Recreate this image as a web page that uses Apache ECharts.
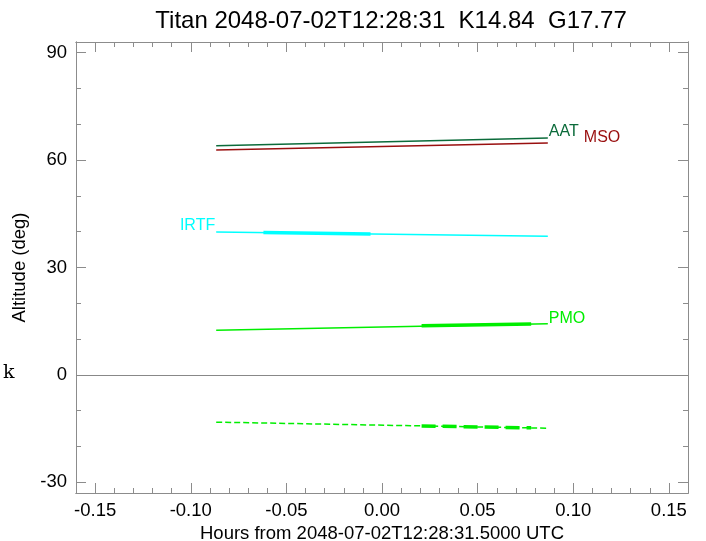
<!DOCTYPE html>
<html><head><meta charset="utf-8">
<script src="https://cdn.jsdelivr.net/npm/echarts@6/dist/echarts.min.js"></script>
<style>html,body{margin:0;padding:0;background:#fff}#c{width:706px;height:541px}</style>
</head><body><div id="c"></div>
<script>
const titleText = 'Titan 2048-07-02T12:28:31  K14.84  G17.77';
const xName = 'Hours from 2048-07-02T12:28:31.5000 UTC';
const yName = 'Altitude (deg)';
const xMajor = [-0.15, -0.10, -0.05, 0.00, 0.05, 0.10, 0.15];
const xMinor = [-0.16,-0.14,-0.13,-0.12,-0.11,-0.09,-0.08,-0.07,-0.06,-0.04,-0.03,-0.02,-0.01,0.01,0.02,0.03,0.04,0.06,0.07,0.08,0.09,0.11,0.12,0.13,0.14,0.16];
const yMajor = [-30, 0, 30, 60, 90];
const yMinor = [-20, -10, 10, 20, 40, 50, 70, 80];

const lineT = [-0.0867, 0.0867];
const aatAlt = [64.0, 66.2];
const msoAlt = [62.8, 64.75];
const irtfAlt = [39.9, 38.7];
const pmoAlt = [12.5, 14.3];
const pmoDashAlt = [-13.2, -14.9];
const irtfThickT = [-0.062, -0.006];
const irtfThickAlt = [39.75, 39.35];
const pmoThickT = [0.0207, 0.078];
const pmoThickAlt = [13.7, 14.2];
const pmoDashThickAlt = [-14.25, -14.8];

const FONT = 'Liberation Sans, Helvetica, Arial, sans-serif';
const frame = '#8c8c8c';
const zip = (a, b) => a.map((v, i) => [v, b[i]]);

function xAx(pos, ticks, len, labels) {
  return {
    type: 'value', position: pos, min: -0.16, max: 0.16,
    axisLine: {show: true, onZero: false, lineStyle: {color: frame, width: 1}},
    axisTick: {show: true, inside: true, length: len, customValues: ticks, lineStyle: {color: frame}},
    axisLabel: labels ? {show: true, customValues: ticks, formatter: v => v.toFixed(2), fontSize: 18.5, color: '#000', fontFamily: FONT, margin: 8} : {show: false},
    splitLine: {show: false},
    name: labels ? xName : '', nameLocation: 'middle', nameGap: 28,
    nameTextStyle: {fontSize: 18.5, color: '#000', fontFamily: FONT}
  };
}
function yAx(pos, ticks, len, labels) {
  return {
    type: 'value', position: pos, min: -33, max: 93,
    axisLine: {show: true, onZero: false, lineStyle: {color: frame, width: 1}},
    axisTick: {show: true, inside: true, length: len, customValues: ticks, lineStyle: {color: frame}},
    axisLabel: labels ? {show: true, customValues: ticks, fontSize: 18.5, color: '#000', fontFamily: FONT, margin: 9} : {show: false},
    splitLine: {show: false},
    name: labels ? yName : '', nameLocation: 'middle', nameGap: 39, nameRotate: 90,
    nameTextStyle: {fontSize: 18.5, color: '#000', fontFamily: FONT}
  };
}

function thin(name, data, color, dashed, extra) {
  const s = {
    type: 'line', name, data, symbol: 'none', silent: true,
    lineStyle: {color, width: 1.5, type: dashed ? 'dashed' : 'solid'},
    itemStyle: {color}
  };
  if (extra) Object.assign(s, extra);
  return s;
}
function thick(name, data, color, dashed) {
  return {type: 'line', name, data, symbol: 'none', silent: true,
    lineStyle: {color, width: 3.5, type: dashed ? 'dashed' : 'solid'}, itemStyle: {color}};
}

const cAAT = '#0b6b3a', cMSO = '#990f0f', cIRTF = '#00ffff', cPMO = '#00ee00';
const lab = (text, color, dist, dy) => ({show: true, formatter: text, color, fontSize: 16, fontFamily: FONT, distance: dist, offset: [0, dy]});

const option = {
  animation: false,
  backgroundColor: '#fff',
  title: {text: titleText, left: 386, top: 4, textAlign: 'center',
    textStyle: {fontSize: 24, fontWeight: 'normal', color: '#000', fontFamily: FONT}},
  grid: {left: 76, right: 18, top: 42, bottom: 48, outerBoundsMode: 'none', containLabel: false},
  xAxis: [xAx('bottom', xMajor, 10, true), xAx('bottom', xMinor, 5, false), xAx('top', xMajor, 10, false), xAx('top', xMinor, 5, false)],
  yAxis: [yAx('left', yMajor, 10, true), yAx('left', yMinor, 5, false), yAx('right', yMajor, 10, false), yAx('right', yMinor, 5, false)],
  graphic: [{type: 'text', left: 3, top: 364, silent: true,
    style: {text: 'k', fontSize: 19, fontFamily: 'DejaVu Serif, Liberation Serif, serif', fill: '#000'}}],
  series: [
    Object.assign(thin('zero', [], '#888', false), {markLine: {silent: true, symbol: 'none', label: {show: false},
      lineStyle: {color: '#888', width: 1, type: 'solid'}, data: [{yAxis: 0}]}}),
    thin('AAT', zip(lineT, aatAlt), cAAT, false, {endLabel: lab('AAT', cAAT, 1, -6)}),
    thin('MSO', zip(lineT, msoAlt), cMSO, false, {endLabel: lab('MSO', cMSO, 36, -6)}),
    thin('IRTF', zip(lineT, irtfAlt), cIRTF, false, {
      markPoint: {silent: true, symbol: 'circle', symbolSize: 0,
        label: {show: true, position: 'left', distance: 1, offset: [0, -6], formatter: 'IRTF', color: cIRTF, fontSize: 16, fontFamily: FONT},
        data: [{coord: [lineT[0], irtfAlt[0]]}]}}),
    thick('IRTF', zip(irtfThickT, irtfThickAlt), cIRTF, false),
    thin('PMO', zip(lineT, pmoAlt), cPMO, false, {endLabel: lab('PMO', cPMO, 1, -5)}),
    thick('PMO', zip(pmoThickT, pmoThickAlt), cPMO, false),
    thin('PMO2', zip(lineT, pmoDashAlt), cPMO, true),
    thick('PMO2', zip(pmoThickT, pmoDashThickAlt), cPMO, true)
  ]
};
echarts.init(document.getElementById('c')).setOption(option);
</script></body></html>
